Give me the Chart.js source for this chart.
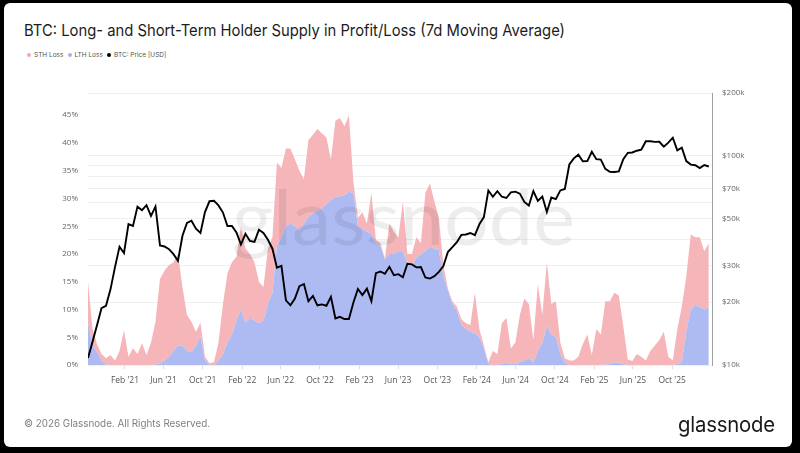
<!DOCTYPE html>
<html>
<head>
<meta charset="utf-8">
<script src="https://cdn.jsdelivr.net/npm/chart.js@4.4.1/dist/chart.umd.min.js"></script>
<style>
  html, body { margin: 0; padding: 0; background: #000; }
  body { width: 800px; height: 453px; position: relative; overflow: hidden; font-family: Inter, "Noto Sans", sans-serif; }
  #panel { position: absolute; left: 4px; top: 3px; width: 788px; height: 444px; background: #fff; border-radius: 6px; }
  #chart { position: absolute; left: 0; top: 0; }
  .txt { position: absolute; white-space: nowrap; line-height: 1; transform-origin: left center; }
  #title { left: 24px; top: 22px; font-size: 16.5px; color: #1c1c1c; }
  #copy { left: 24px; top: 419px; font-size: 10.5px; color: #808080; }
  #logo { left: 678px; top: 414px; font-size: 21px; color: #1a1a1a; letter-spacing: -0.2px; }
  .leg { position: absolute; top: 52px; font-size: 6.5px; color: #555; white-space: nowrap; line-height: 7px; }
  .leg i { display: inline-block; width: 4px; height: 4px; border-radius: 50%; margin-right: 3px; vertical-align: 0.5px; }
</style>
</head>
<body>
<div id="panel"></div>
<div id="title" class="txt">BTC: Long- and Short-Term Holder Supply in Profit/Loss (7d Moving Average)</div>
<div class="leg" style="left:27px"><i style="background:#f2a9ae"></i>STH Loss</div>
<div class="leg" style="left:67.5px"><i style="background:#a3b2ef"></i>LTH Loss</div>
<div class="leg" style="left:107px"><i style="background:#000"></i>BTC: Price [USD]</div>
<canvas id="chart" width="800" height="453"></canvas>
<div id="copy" class="txt">© 2026 Glassnode. All Rights Reserved.</div>
<div id="logo" class="txt">glassnode</div>

<script>
// one sample every 14 days, starting 2020-10-09
const startDate = '2020-10-09';
const stepDays = 14;
const endDate = '2026-02-02';

// LTH supply in loss, % of supply
const lthLoss = [
  7.6, 3.6, 2.3, 0.8, 0.1, 0, 0, 0, 0, 0,
  0, 0, 0, 0, 0, 0.1, 0.3, 0.8, 1.5, 2.5,
  3.5, 3.5, 2.5, 2.3, 3.5, 5.2, 0.8, 0, 0, 0.8,
  2, 4, 5.5, 8, 10, 7.6, 8.5, 8, 7.5, 8,
  11, 13, 21.5, 23, 25, 25.5, 25, 24.3, 25.5, 26.7,
  27.3, 27.9, 28.2, 29, 29.7, 30.3, 30.3, 30.6, 31.2, 31,
  25, 24.5, 24, 23.7, 22, 21.5, 19, 20, 20, 20.5,
  20.5, 18.3, 17.8, 19.3, 20, 20.5, 21.3, 21, 20.7, 16,
  13.5, 11, 9.8, 7.3, 6.5, 6, 5.7, 5, 3, 0.2,
  0, 0, 0.2, 0.4, 0.2, 0.2, 0.5, 0.8, 1.2, 0.5,
  2.5, 4, 7, 5.5, 5, 2, 0.4, 0, 0, 0,
  0, 0, 0, 0, 0, 0.1, 0.2, 0.5, 0.4, 0.2,
  0, 0, 0, 0, 0, 0, 0, 0, 0, 0,
  0, 0.2, 0.5, 6, 10, 10.8, 10.5, 10, 10.5
];

// STH supply in loss, % of supply (stacked on LTH)
const sthLoss = [
  7.4, 2.9, 1.5, 1.2, 1.1, 1.8, 0.8, 2.5, 6.2, 1.5,
  3, 2, 3.9, 1.8, 4, 7.7, 15.2, 16.2, 16.5, 16,
  16.5, 10.5, 6.5, 5.5, 2.5, 2.4, 0.7, 0.3, 0.5, 3.2,
  9, 12.5, 13, 11.5, 15, 13.4, 11.5, 10.5, 7.5, 6,
  10, 10, 15, 12.5, 14, 13.5, 12, 10.7, 8, 13.8,
  14.2, 14.6, 13.5, 12, 7.3, 13.7, 14.2, 12.4, 13.8, 2,
  1.5, 3, 1.5, 7.3, 0.5, 0.5, 0.2, 5.5, 4, 2.5,
  9, 1.7, 2.2, 3.7, 2, 10.5, 11.4, 8.5, 5.8, 2,
  0.3, 0.5, 0.7, 1, 1, 1.2, 7.3, 1.5, 0.5, 0.3,
  2.5, 2, 7.3, 8.1, 2.8, 3.8, 8.5, 11.2, 9.8, 4,
  12, 5, 11.5, 5.5, 6.5, 2, 0.8, 0.8, 0.8, 1.5,
  3.8, 5.5, 1.8, 6.5, 5.5, 11.4, 11.3, 12.5, 12.1, 6.8,
  1, 0.7, 2, 1.5, 0.8, 2.5, 3.5, 4.5, 6, 1.5,
  0.8, 6.3, 10, 10, 13.5, 12.2, 12.5, 10.5, 11.5
];

// BTC price, USD
const btcPrice = [
  10800, 12900, 15500, 18700, 19200, 23000, 29400, 36800, 34300, 47200,
  46300, 57200, 55000, 58100, 51700, 57300, 37300, 36900, 35800, 33900,
  31500, 41500, 47800, 49000, 44900, 42800, 53900, 60700, 61000, 58000,
  53600, 46200, 46300, 43100, 37700, 42400, 39200, 38800, 44400, 42800,
  39700, 36000, 29200, 29800, 20400, 19300, 20800, 23800, 24400, 20200,
  21400, 19300, 19500, 19200, 21200, 16700, 17000, 16600, 16600, 19900,
  23100, 21600, 23200, 20200, 27500, 28000, 27300, 29500, 26900, 27200,
  26300, 30500, 30300, 29300, 29400, 26200, 25900, 26600, 27900, 29700,
  34700, 36600, 38700, 41900, 42100, 42800, 41800, 47100, 51000, 68300,
  63800, 67800, 63800, 62900, 67000, 67500, 66000, 60300, 57900, 67900,
  60900, 64000, 53900, 63200, 62100, 68400, 69500, 91000, 97400, 101400,
  94200, 94500, 104700, 96500, 96100, 86700, 84000, 83800, 84400, 96500,
  103500, 103900, 105900, 107100, 117500, 117600, 116700, 116900, 110700, 115700,
  122200, 106400, 109600, 94500, 90900, 90300, 87500, 90500, 89000
];

const xTickDates = [
  '2021-02-01', '2021-06-01', '2021-10-01', '2022-02-01', '2022-06-01', '2022-10-01',
  '2023-02-01', '2023-06-01', '2023-10-01', '2024-02-01', '2024-06-01', '2024-10-01',
  '2025-02-01', '2025-06-01', '2025-10-01'
];
const xTickLabels = [
  "Feb '21", "Jun '21", "Oct '21", "Feb '22", "Jun '22", "Oct '22",
  "Feb '23", "Jun '23", "Oct '23", "Feb '24", "Jun '24", "Oct '24",
  "Feb '25", "Jun '25", "Oct '25"
];
const pctTicks = [0, 5, 10, 15, 20, 25, 30, 35, 40, 45];
const priceGrid = [10000, 20000, 30000, 40000, 50000, 60000, 70000, 80000, 90000, 100000, 200000];
const priceLabels = { 10000: '$10k', 20000: '$20k', 30000: '$30k', 50000: '$50k', 70000: '$70k', 100000: '$100k', 200000: '$200k' };

const dayNum = s => Date.parse(s + 'T00:00:00Z') / 86400000;
const x0 = dayNum(startDate);
const pts = arr => arr.map((v, i) => ({ x: x0 + i * stepDays, y: v }));

// faint logo behind the price line
const watermark = {
    id: 'watermark',
    afterDatasetDraw(chart, args) {
        if (args.index !== 0) return;
        const ctx = chart.ctx;
        ctx.save();
        ctx.font = '400 76px Lato';
        ctx.fillStyle = 'rgba(0, 0, 0, 0.07)';
        const w = ctx.measureText('glassnode').width;
        ctx.translate(232, 245);
        ctx.scale(343 / w, 1);
        ctx.fillText('glassnode', 0, 0);
        ctx.restore();
    }
};

const tickFont = { family: '"Open Sans", sans-serif', size: 8 };

new Chart(document.getElementById('chart'), {
    type: 'line',
    data: {
        datasets: [
            {
                label: 'LTH Loss',
                data: pts(lthLoss),
                yAxisID: 'y',
                backgroundColor: '#aebbf2',
                borderColor: 'rgba(0,0,0,0)',
                borderWidth: 0,
                pointRadius: 0,
                fill: 'origin'
            },
            {
                label: 'STH Loss',
                data: pts(sthLoss),
                yAxisID: 'y',
                backgroundColor: '#f5b5b9',
                borderColor: 'rgba(0,0,0,0)',
                borderWidth: 0,
                pointRadius: 0,
                fill: '-1'
            },
            {
                label: 'BTC: Price [USD]',
                data: pts(btcPrice),
                yAxisID: 'y1',
                borderColor: '#000',
                borderWidth: 1.9,
                pointRadius: 0,
                fill: false,
                order: -1
            }
        ]
    },
    options: {
        responsive: false,
        animation: false,
        layout: { padding: { top: 93, left: 0, right: 0, bottom: 0 } },
        plugins: { legend: { display: false }, tooltip: { enabled: false } },
        scales: {
            x: {
                type: 'linear',
                min: dayNum(startDate),
                max: dayNum(endDate),
                afterBuildTicks: s => { s.ticks = xTickDates.map(d => ({ value: dayNum(d) })); },
                afterFit: s => { s.height = 88; },
                grid: { drawOnChartArea: false, drawTicks: true, tickLength: 4, color: '#dddddd' },
                border: { display: false },
                ticks: {
                    autoSkip: false,
                    maxRotation: 0,
                    padding: 6,
                    color: '#555',
                    font: { family: '"Open Sans", sans-serif', size: 8.5 },
                    callback: (v, i) => xTickLabels[i]
                }
            },
            y: {
                position: 'left',
                stacked: true,
                min: 0,
                max: 49,
                afterBuildTicks: s => { s.ticks = pctTicks.map(v => ({ value: v })); },
                afterFit: s => { s.width = 88; },
                grid: { display: false, drawTicks: false },
                border: { display: false },
                ticks: { padding: 10, color: '#666', font: tickFont, callback: v => v + '%' }
            },
            y1: {
                type: 'logarithmic',
                position: 'right',
                min: 10000,
                max: 200000,
                afterBuildTicks: s => { s.ticks = priceGrid.map(v => ({ value: v })); },
                afterFit: s => { s.width = 88; },
                grid: { color: '#efefef', drawTicks: false },
                border: { display: true, color: '#a0a0a0', width: 1 },
                ticks: {
                    autoSkip: false,
                    padding: 10,
                    color: '#666',
                    font: tickFont,
                    callback: v => priceLabels[v] || ''
                }
            }
        }
    },
    plugins: [watermark]
});

// squeeze the header/footer text to the widths of the original
function fitWidth(id, target) {
    const el = document.getElementById(id);
    const w = el.getBoundingClientRect().width;
    el.style.transform = 'scaleX(' + (target / w) + ')';
}
fitWidth('title', 541);
fitWidth('copy', 186);
fitWidth('logo', 97);
</script>
</body>
</html>
